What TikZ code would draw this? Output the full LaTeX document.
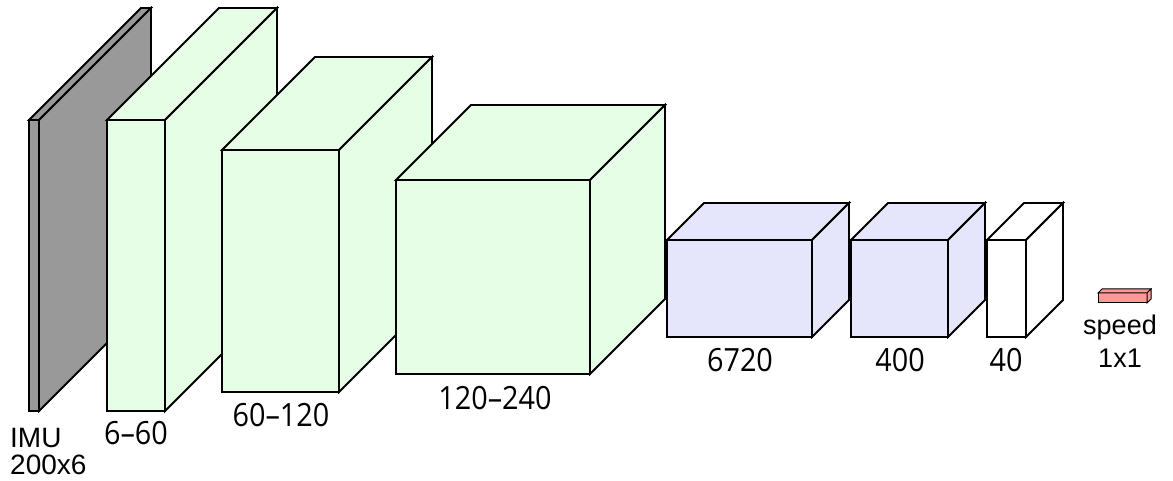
\documentclass[tikz,border=0pt]{standalone}
\usepackage{fontspec}
\setmainfont{Liberation Sans}
\newfontfamily\layerfont[FakeStretch=0.9]{Open Sans}
\usepackage{tikz}

\definecolor{convgreen}{RGB}{230,254,230}
\definecolor{fcblue}{RGB}{229,229,252}
\definecolor{inputgray}{RGB}{153,153,153}
\definecolor{speedpink}{RGB}{255,153,153}

\tikzset{
  face/.style={draw=black, line width=1.8pt, line join=miter},
  thinface/.style={draw=black, line width=1pt},
  lbl/.style={inner sep=0pt, font=\fontsize{28}{32}\selectfont},
  layerlbl/.style={inner sep=0pt, anchor=base, font=\layerfont\fontsize{32}{36}\selectfont},
  outlbl/.style={inner sep=0pt, anchor=base, font=\fontsize{27}{30}\selectfont}
}

\begin{document}
\begin{tikzpicture}[x=1pt,y=1pt]
                \useasboundingbox (0,0) rectangle (1173,481);
                 % input IMU
                 \filldraw[face, fill=inputgray] (29,70) rectangle (39,361);
                 \filldraw[face, fill=inputgray] (29,361) -- (141,473) -- (151,473) -- (39,361) -- cycle;
                 \filldraw[face, fill=inputgray] (39,70) -- (151,182) -- (151,473) -- (39,361) -- cycle;
                 % conv 6-60
                 \filldraw[face, fill=convgreen] (107,70) rectangle (165,361);
                 \filldraw[face, fill=convgreen] (107,361) -- (219,473) -- (277,473) -- (165,361) -- cycle;
                 \filldraw[face, fill=convgreen] (165,70) -- (277,182) -- (277,473) -- (165,361) -- cycle;
                 % conv 60-120
                 \filldraw[face, fill=convgreen] (222,89) rectangle (339,331);
                 \filldraw[face, fill=convgreen] (222,331) -- (315,424) -- (432,424) -- (339,331) -- cycle;
                 \filldraw[face, fill=convgreen] (339,89) -- (432,182) -- (432,424) -- (339,331) -- cycle;
                 % conv 120-240
                 \filldraw[face, fill=convgreen] (396,107) rectangle (590,301);
                 \filldraw[face, fill=convgreen] (396,301) -- (471,376) -- (665,376) -- (590,301) -- cycle;
                 \filldraw[face, fill=convgreen] (590,107) -- (665,182) -- (665,376) -- (590,301) -- cycle;
                 % fc 6720
                 \filldraw[face, fill=fcblue] (667,144) rectangle (812,241);
                 \filldraw[face, fill=fcblue] (667,241) -- (704,278) -- (849,278) -- (812,241) -- cycle;
                 \filldraw[face, fill=fcblue] (812,144) -- (849,181) -- (849,278) -- (812,241) -- cycle;
                 % fc 400
                 \filldraw[face, fill=fcblue] (851,144) rectangle (948,241);
                 \filldraw[face, fill=fcblue] (851,241) -- (888,278) -- (985,278) -- (948,241) -- cycle;
                 \filldraw[face, fill=fcblue] (948,144) -- (985,181) -- (985,278) -- (948,241) -- cycle;
                 % fc 40
                 \filldraw[face, fill=white] (987,144) rectangle (1026,241);
                 \filldraw[face, fill=white] (987,241) -- (1024,278) -- (1063,278) -- (1026,241) -- cycle;
                 \filldraw[face, fill=white] (1026,144) -- (1063,181) -- (1063,278) -- (1026,241) -- cycle;
                 % output speed
                 \filldraw[thinface, fill=speedpink] (1098,178) rectangle (1147,188);
                 \filldraw[thinface, fill=speedpink] (1098,188) -- (1102,192) -- (1151,192) -- (1147,188) -- cycle;
                 \filldraw[thinface, fill=speedpink] (1147,178) -- (1151,182) -- (1151,192) -- (1147,188) -- cycle;
                 % labels
                 \node[lbl, anchor=base west] (imu) at (10,33) {IMU};
                 \node[lbl, anchor=base west] (imudim) at (10,6) {200x6};
                 \node[layerlbl] (convA) at (136,36) {6–60};
                 \node[layerlbl] (convB) at (281,54) {60–120};
                 \node[layerlbl] (convC) at (495,71) {120–240};
                 \node[layerlbl] (fcA) at (740,109) {6720};
                 \node[layerlbl] (fcB) at (900,109) {400};
                 \node[layerlbl] (fcC) at (1006,109) {40};
                 \node[outlbl] (speed) at (1120,146) {speed};
                 \node[outlbl] (speeddim) at (1120,113) {1x1};
            \end{tikzpicture}
\end{document}
